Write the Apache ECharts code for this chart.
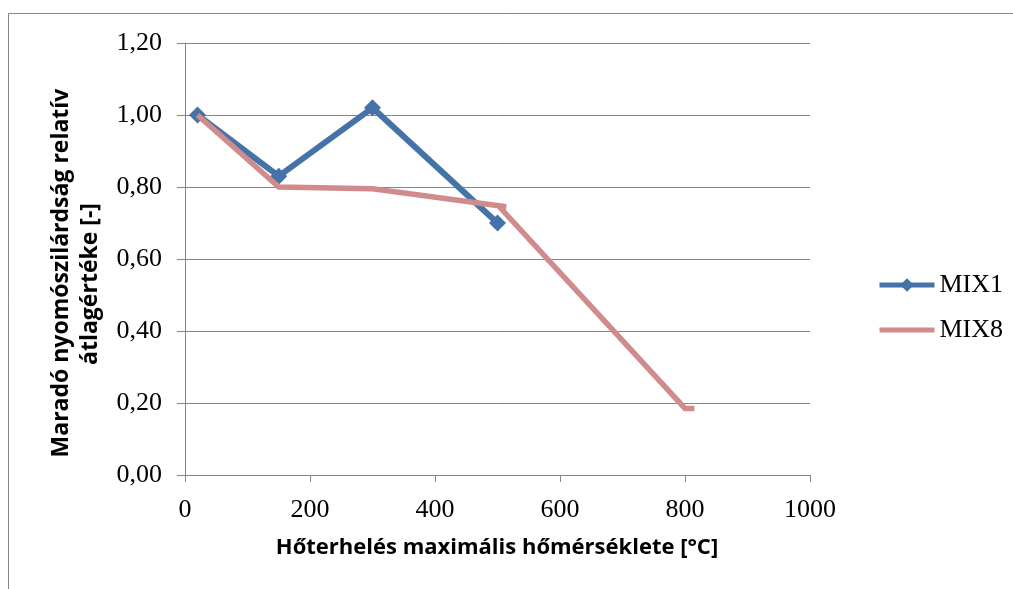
<!DOCTYPE html>
<html>
<head>
<meta charset="utf-8">
<script src="https://cdn.jsdelivr.net/npm/echarts@6/dist/echarts.min.js"></script>
<style>
  html, body { margin: 0; padding: 0; background: #fff; }
  #chart { width: 1013px; height: 589px; }
</style>
</head>
<body>
<div id="chart"></div>
<script>
// Relative residual compressive strength vs. maximum temperature
const mix1Temps = [20, 150, 300, 500];
const mix1Values = [1.00, 0.83, 1.02, 0.70];

const mix8Temps = [20, 150, 300, 514, 503, 800, 815];
const mix8Values = [1.00, 0.80, 0.795, 0.745, 0.745, 0.185, 0.185];

const seriesNames = ['MIX1', 'MIX8'];
const xTitle = 'Hőterhelés maximális hőmérséklete [°C]';
const yTitleLines = ['Maradó nyomószilárdság relatív', 'átlagértéke [-]'];

const pairs = (xs, ys) => xs.map((x, i) => [x, ys[i]]);

const axisGray = '#868686';
const blue = '#4572A7';
const pink = '#D08C8C';
const serif = '"Liberation Serif", "Times New Roman", serif';
const sans = '"Open Sans", "Liberation Sans", sans-serif';

const chart = echarts.init(document.getElementById('chart'), null, { renderer: 'canvas' });

chart.setOption({
  animation: false,
  backgroundColor: '#ffffff',
  grid: { left: 185, right: 203, top: 43, bottom: 114, containLabel: false },
  xAxis: {
    type: 'value',
    min: 0, max: 1000, interval: 200,
    axisLine: { show: true, onZero: false, lineStyle: { color: axisGray, width: 1 } },
    axisTick: { show: true, length: 7, lineStyle: { color: axisGray } },
    splitLine: { show: false },
    axisLabel: { color: '#000', fontFamily: serif, fontSize: 26, margin: 22, formatter: v => String(v) }
  },
  yAxis: {
    type: 'value',
    min: 0, max: 1.2, interval: 0.2,
    axisLine: { show: true, lineStyle: { color: axisGray, width: 1 } },
    axisTick: { show: true, length: 8, lineStyle: { color: axisGray } },
    splitLine: { show: true, lineStyle: { color: axisGray, width: 1 } },
    axisLabel: {
      color: '#000', fontFamily: serif, fontSize: 26, margin: 23,
      formatter: v => v.toFixed(2).replace('.', ',')
    }
  },
  legend: {
    orient: 'vertical',
    left: 872, top: 267,
    itemWidth: 55, itemHeight: 17, itemGap: 19,
    lineStyle: { width: 5 },
    textStyle: { color: '#000', fontFamily: serif, fontSize: 26 },
    data: [
      { name: seriesNames[0] },
      { name: seriesNames[1], itemStyle: { opacity: 0 } }
    ]
  },
  series: [
    {
      name: seriesNames[0],
      type: 'line',
      data: pairs(mix1Temps, mix1Values),
      symbol: 'diamond', symbolSize: 17,
      lineStyle: { color: blue, width: 6 },
      itemStyle: { color: blue },
      z: 2
    },
    {
      name: seriesNames[1],
      type: 'line',
      data: pairs(mix8Temps, mix8Values),
      symbol: 'none',
      lineStyle: { color: pink, width: 5.5, cap: 'butt', join: 'miter' },
      itemStyle: { color: pink },
      z: 3
    }
  ],
  graphic: [
    {
      type: 'rect', silent: true, z: -1,
      shape: { x: 8.5, y: 13.5, width: 1200, height: 800 },
      style: { fill: null, stroke: axisGray, lineWidth: 1 }
    },
    {
      type: 'text', x: 497, y: 548,
      style: { text: xTitle, font: 'bold 22px ' + sans, fill: '#000', textAlign: 'center', textVerticalAlign: 'middle' }
    },
    {
      type: 'text', x: 61, y: 273, rotation: Math.PI / 2,
      style: { text: yTitleLines[0], font: 'bold 23px ' + sans, fill: '#000', textAlign: 'center', textVerticalAlign: 'middle' }
    },
    {
      type: 'text', x: 90, y: 284, rotation: Math.PI / 2,
      style: { text: yTitleLines[1], font: 'bold 23px ' + sans, fill: '#000', textAlign: 'center', textVerticalAlign: 'middle' }
    }
  ]
});
</script>
</body>
</html>
